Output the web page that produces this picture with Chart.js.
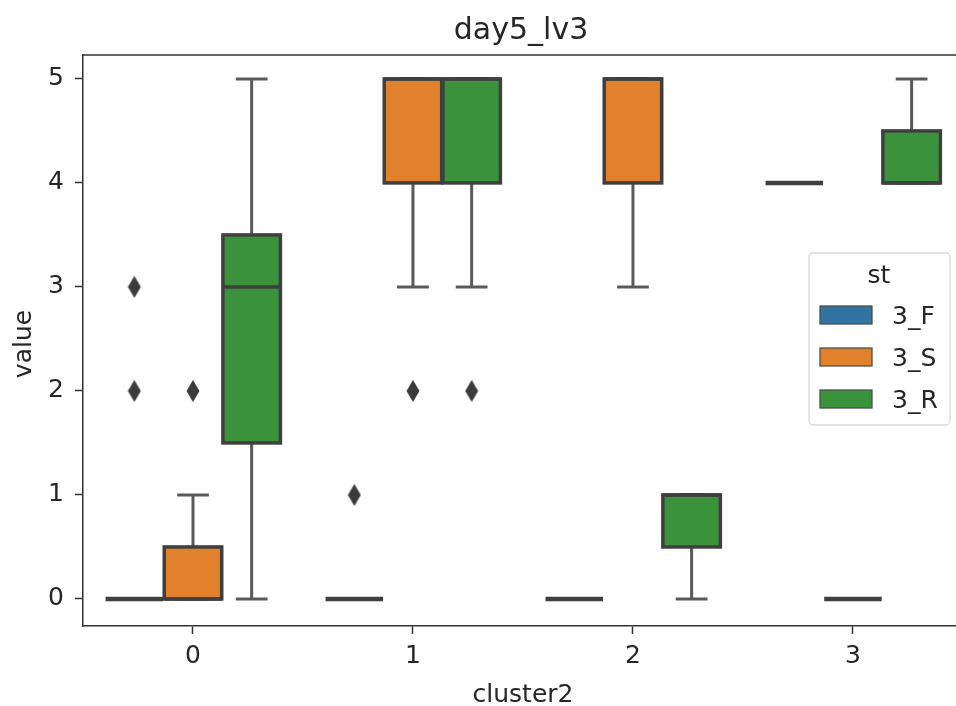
<!DOCTYPE html>
<html>
<head>
<meta charset="utf-8">
<script src="https://cdn.jsdelivr.net/npm/chart.js@4"></script>
<style>
  html, body { margin: 0; padding: 0; background: #fff; }
  #wrap { width: 956px; height: 706px; }
</style>
</head>
<body>
<div id="wrap"><canvas id="boxChart"></canvas></div>
<script>
// categories along x and the hue groups
const clusters = [0, 1, 2, 3];
const hues = ['3_F', '3_S', '3_R'];
const hueColors = ['#3274a1', '#e1812c', '#3a923a'];
const yTicks = [0, 1, 2, 3, 4, 5];

// box statistics per hue, one entry per cluster
const lowF = [0, 0, 0, 4], q1F = [0, 0, 0, 4], medF = [0, 0, 0, 4], q3F = [0, 0, 0, 4], highF = [0, 0, 0, 4];
const lowS = [0, 3, 3, 0], q1S = [0, 4, 4, 0], medS = [0, 5, 5, 0], q3S = [0.5, 5, 5, 0], highS = [1, 5, 5, 0];
const lowR = [0, 3, 0, 4], q1R = [1.5, 4, 0.5, 4], medR = [3, 5, 1, 4], q3R = [3.5, 5, 1, 4.5], highR = [5, 5, 1, 5];

// outlier values per hue, one list per cluster
const fliersF = [[2, 3], [1], [], []];
const fliersS = [[2], [2], [], []];
const fliersR = [[], [2], [], []];

const stats = [
  { low: lowF, q1: q1F, med: medF, q3: q3F, high: highF, fliers: fliersF },
  { low: lowS, q1: q1S, med: medS, q3: q3S, high: highS, fliers: fliersS },
  { low: lowR, q1: q1R, med: medR, q3: q3R, high: highR, fliers: fliersR }
];

const groupWidth = 0.8;
const boxWidth = groupWidth / hues.length;
const hueOffset = h => -groupWidth / 2 + boxWidth * (h + 0.5);

const FONT = "'DejaVu Sans', sans-serif";
const TEXT = '#262626';
const edgeColor = '#3f3f3f';
const whiskerColor = '#5a5a5a';

// thin diamond used for the outliers
function diamond() {
  const c = document.createElement('canvas');
  c.width = 14; c.height = 23;
  const g = c.getContext('2d');
  g.fillStyle = '#3b3b3b';
  g.beginPath();
  g.moveTo(7, 0.5); g.lineTo(13.5, 11.5); g.lineTo(7, 22.5); g.lineTo(0.5, 11.5);
  g.closePath(); g.fill();
  return c;
}

const flierPoints = [];
stats.forEach((s, h) => {
  clusters.forEach((c, i) => {
    s.fliers[i].forEach(v => flierPoints.push({ x: c + hueOffset(h), y: v }));
  });
});

const boxPlugin = {
  id: 'boxes',
  beforeDatasetsDraw(chart) {
    const { ctx, chartArea, scales: { x, y } } = chart;
    ctx.save();
    ctx.beginPath();
    ctx.rect(chartArea.left, chartArea.top, chartArea.right - chartArea.left, chartArea.bottom - chartArea.top);
    ctx.clip();
    const bw = x.getPixelForValue(boxWidth * 0.98) - x.getPixelForValue(0);
    stats.forEach((s, h) => {
      clusters.forEach((c, i) => {
        const cx = x.getPixelForValue(c + hueOffset(h));
        const x0 = cx - bw / 2, x1 = cx + bw / 2;
        const yq1 = y.getPixelForValue(s.q1[i]), yq3 = y.getPixelForValue(s.q3[i]);
        const yLo = y.getPixelForValue(s.low[i]), yHi = y.getPixelForValue(s.high[i]);
        const yMed = y.getPixelForValue(s.med[i]);
        // whiskers and caps
        ctx.strokeStyle = whiskerColor;
        ctx.lineWidth = 3;
        ctx.lineCap = 'square';
        ctx.beginPath();
        if (yLo !== yq1) { ctx.moveTo(cx, yq1); ctx.lineTo(cx, yLo); }
        if (yHi !== yq3) { ctx.moveTo(cx, yq3); ctx.lineTo(cx, yHi); }
        ctx.moveTo(cx - bw / 4, yLo); ctx.lineTo(cx + bw / 4, yLo);
        ctx.moveTo(cx - bw / 4, yHi); ctx.lineTo(cx + bw / 4, yHi);
        ctx.stroke();
        ctx.lineCap = 'butt';
        ctx.strokeStyle = edgeColor;
        if (yq1 === yq3) {
          // degenerate box collapses to one thick line
          ctx.lineWidth = 4.5;
          ctx.beginPath();
          ctx.moveTo(x0, yq1); ctx.lineTo(x1, yq1);
          ctx.stroke();
          return;
        }
        // box
        ctx.fillStyle = hueColors[h];
        ctx.fillRect(x0, yq3, bw, yq1 - yq3);
        ctx.lineWidth = 3.5;
        ctx.lineJoin = 'miter';
        ctx.strokeRect(x0, yq3, bw, yq1 - yq3);
        // median
        ctx.beginPath();
        ctx.moveTo(x0, yMed); ctx.lineTo(x1, yMed);
        ctx.stroke();
      });
    });
    ctx.restore();
  },
  afterDraw(chart) {
    const { ctx, chartArea } = chart;
    ctx.save();
    // top spine; the right one lies beyond the canvas
    ctx.strokeStyle = '#333';
    ctx.lineWidth = 1.5;
    ctx.beginPath();
    ctx.moveTo(chartArea.left - 0.75, chartArea.top);
    ctx.lineTo(chart.width, chartArea.top);
    ctx.stroke();

    ctx.fillStyle = TEXT;
    ctx.textBaseline = 'alphabetic';

    // title
    ctx.font = '30px ' + FONT;
    ctx.textAlign = 'center';
    ctx.fillText('day5_lv3', 521, 39);

    // axis titles
    ctx.font = '25px ' + FONT;
    ctx.fillText('cluster2', 523, 702);
    ctx.save();
    ctx.translate(31, 344);
    ctx.rotate(-Math.PI / 2);
    ctx.fillText('value', 0, 0);
    ctx.restore();

    // legend
    const lx = 809, ly = 253, lw = 141, lh = 172;
    ctx.fillStyle = 'rgba(255,255,255,0.85)';
    ctx.strokeStyle = '#d9d9d9';
    ctx.lineWidth = 1.3;
    ctx.beginPath();
    ctx.roundRect(lx, ly, lw, lh, 4);
    ctx.fill(); ctx.stroke();
    ctx.fillStyle = TEXT;
    ctx.font = '25px ' + FONT;
    ctx.textAlign = 'center';
    ctx.fillText('st', 879, 283);
    ctx.textAlign = 'left';
    hues.forEach((name, h) => {
      const ry = 315 + h * 42;
      ctx.fillStyle = hueColors[h];
      ctx.fillRect(820, ry - 9, 52, 18);
      ctx.strokeStyle = '#4f4f4f';
      ctx.lineWidth = 1.3;
      ctx.strokeRect(820, ry - 9, 52, 18);
      ctx.fillStyle = TEXT;
      ctx.fillText(name, 892, ry + 9);
    });
    ctx.restore();
  }
};

new Chart(document.getElementById('boxChart'), {
  type: 'scatter',
  data: {
    datasets: [{
      label: 'outliers',
      data: flierPoints,
      pointStyle: diamond(),
      pointRadius: 0.1,
      pointHoverRadius: 0.1,
      pointBorderWidth: 0
    }]
  },
  options: {
    responsive: true,
    maintainAspectRatio: false,
    animation: false,
    events: [],
    layout: { padding: { top: 55, left: 0, right: 0, bottom: 0 } },
    plugins: {
      legend: { display: false },
      tooltip: { enabled: false }
    },
    scales: {
      x: {
        type: 'linear',
        min: -0.5,
        max: 3.468,
        afterBuildTicks: axis => { axis.ticks = clusters.map(v => ({ value: v })); },
        afterFit: axis => { axis.height = 80; axis.paddingLeft = 0; axis.paddingRight = 0; },
        ticks: { color: TEXT, font: { family: FONT, size: 25 }, padding: 7, maxRotation: 0 },
        grid: { display: true, drawOnChartArea: false, tickLength: 8, tickWidth: 1.5, color: '#333' },
        border: { display: true, color: '#333', width: 1.5 }
      },
      y: {
        type: 'linear',
        min: -0.26,
        max: 5.23,
        afterBuildTicks: axis => { axis.ticks = yTicks.map(v => ({ value: v })); },
        afterFit: axis => { axis.width = 83; },
        ticks: { color: TEXT, font: { family: FONT, size: 25 }, padding: 11 },
        grid: { display: true, drawOnChartArea: false, tickLength: 8, tickWidth: 1.5, color: '#333' },
        border: { display: true, color: '#333', width: 1.5 }
      }
    }
  },
  plugins: [boxPlugin]
});
</script>
</body>
</html>
